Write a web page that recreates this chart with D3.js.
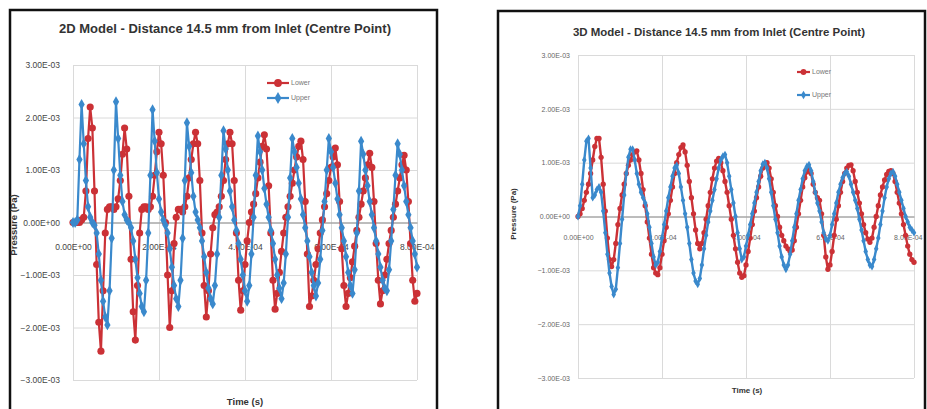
<!DOCTYPE html>
<html>
<head>
<meta charset="utf-8">
<script src="https://cdn.jsdelivr.net/npm/d3@7"></script>
<style>
  html, body { margin: 0; padding: 0; background: #fff; }
  svg { display: block; font-family: 'Liberation Sans', Arial, sans-serif; }
</style>
</head>
<body>
<svg id="chart" width="927" height="409"></svg>
<script>
// Pressure in units of 1E-03 Pa, sampled every 5E-06 s
const timeStep = 5e-6;
const unit = 1e-3;
const seriesNames = ['Lower', 'Upper'];

const lowerTwoD = [
  0, 0, 0, 0, 0.05, 0.1, 0.6, 1.6, 2.2, 1.8,
  0.6, -0.8, -1.9, -2.45, -1.3, -0.2, 0.25, 0.3, 0.3, 0.25,
  0.3, 0.45, 0.8, 1.3, 1.8, 1.4, 0.5, -0.7, -1.7, -2.24,
  -1.2, -0.2, 0.25, 0.3, 0.3, 0.25, 0.3, 0.5, 0.9, 1.35,
  1.72, 1.5, 0.9, 0.0, -1.0, -2.0, -1.3, -0.4, 0.1, 0.25,
  0.25, 0.2, 0.3, 0.5, 0.85, 1.2, 1.5, 1.72, 1.5, 0.8,
  -0.2, -1.2, -1.8, -1.3, -0.6, -0.1, 0.15, 0.2, 0.3, 0.5,
  0.8, 1.2, 1.5, 1.72, 1.5, 0.8, -0.2, -1.1, -1.67, -1.3,
  -0.8, -0.35, 0.0, 0.2, 0.35, 0.55, 0.85, 1.15, 1.45, 1.67,
  1.4, 0.7, -0.2, -1.1, -1.65, -1.35, -0.95, -0.55, -0.2, 0.1,
  0.3, 0.5, 0.75, 1.0, 1.25, 1.45, 1.55, 1.2, 0.4, -0.6,
  -1.6, -1.4, -1.1, -0.8, -0.5, -0.2, 0.05, 0.3, 0.55, 0.8,
  1.05, 1.25, 1.42, 1.1, 0.4, -0.5, -1.2, -1.6, -1.35, -1.05,
  -0.75, -0.45, -0.15, 0.1, 0.35, 0.6, 0.85, 1.1, 1.32, 1.05,
  0.4, -0.4, -1.1, -1.55, -1.3, -1.0, -0.7, -0.4, -0.15, 0.1,
  0.35, 0.6, 0.85, 1.1, 1.28, 1.0, 0.4, -0.4, -1.1, -1.5,
  -1.35
];
const upperTwoD = [
  0, 0, 0.05, 1.2, 2.25, 1.5, 0.8, 0.3, 0.1, 0.0,
  -0.05, -0.2, -0.6, -1.1, -1.5, -1.8, -1.95, -1.3, -0.3, 1.0,
  2.3, 1.6, 0.9, 0.4, 0.15, 0.05, 0.0, -0.1, -0.35, -0.7,
  -1.05, -1.35, -1.6, -1.7, -1.1, -0.2, 0.9, 2.15, 1.55, 0.95,
  0.45, 0.2, 0.05, -0.05, -0.2, -0.5, -0.85, -1.2, -1.45, -1.6,
  -1.1, -0.3, 0.8, 1.9, 1.45, 0.95, 0.5, 0.2, 0.05, -0.1,
  -0.35, -0.65, -0.95, -1.25, -1.45, -1.55, -1.2, -0.6, 0.1, 0.9,
  1.75, 1.4, 1.0, 0.6, 0.3, 0.05, -0.15, -0.4, -0.7, -1.0,
  -1.3, -1.5, -1.2, -0.6, 0.1, 0.9, 1.65, 1.35, 1.0, 0.65,
  0.35, 0.1, -0.15, -0.4, -0.7, -1.0, -1.25, -1.45, -1.15, -0.6,
  0.1, 0.85, 1.6, 1.35, 1.05, 0.75, 0.45, 0.15, -0.1, -0.35,
  -0.65, -0.95, -1.2, -1.4, -1.15, -0.7, -0.15, 0.4, 1.0, 1.6,
  1.35, 1.05, 0.75, 0.45, 0.15, -0.1, -0.35, -0.65, -0.95, -1.2,
  -1.35, -0.9, -0.2, 0.6, 1.55, 1.3, 1.0, 0.7, 0.4, 0.15,
  -0.1, -0.35, -0.6, -0.85, -1.1, -1.25, -1.3, -0.9, -0.35, 0.25,
  0.9, 1.5, 1.3, 1.0, 0.7, 0.4, 0.15, -0.1, -0.35, -0.6,
  -0.85
];
const lowerThreeD = [
  0, 0.05, 0.15, 0.3, 0.45, 0.6, 0.8, 1.05, 1.3, 1.45,
  1.45, 1.1, 0.6, 0.1, -0.4, -0.8, -0.93, -0.8, -0.5, -0.15,
  0.15, 0.4, 0.6, 0.8, 0.95, 1.05, 1.15, 1.2, 1.22, 1.05,
  0.8, 0.5, 0.2, -0.1, -0.4, -0.7, -0.95, -1.05, -1.08, -0.95,
  -0.7, -0.45, -0.2, 0.05, 0.3, 0.55, 0.8, 1.0, 1.15, 1.28,
  1.33, 1.2, 0.95, 0.65, 0.35, 0.05, -0.25, -0.5, -0.6, -0.5,
  -0.3, -0.05, 0.2, 0.45, 0.7, 0.9, 1.03, 1.08, 1.0, 0.85,
  0.65, 0.45, 0.2, -0.05, -0.35, -0.6, -0.85, -1.05, -1.13, -1.1,
  -0.9, -0.65, -0.4, -0.15, 0.1, 0.35, 0.55, 0.75, 0.9, 0.98,
  1.0, 0.9, 0.7, 0.45, 0.2, 0.0, -0.2, -0.35, -0.45, -0.55,
  -0.6, -0.65, -0.62, -0.45, -0.2, 0.05, 0.3, 0.55, 0.72, 0.83,
  0.88, 0.8, 0.6, 0.45, 0.35, 0.3, 0.05, -0.35, -0.75, -0.98,
  -0.9, -0.65, -0.35, -0.05, 0.2, 0.45, 0.65, 0.8, 0.9, 0.95,
  0.96, 0.85, 0.65, 0.45, 0.25, 0.05, -0.15, -0.3, -0.42, -0.48,
  -0.4, -0.2, 0.0, 0.2, 0.4, 0.55, 0.68, 0.78, 0.84, 0.85,
  0.8, 0.65, 0.45, 0.25, 0.05, -0.15, -0.35, -0.55, -0.7, -0.8,
  -0.85
];
const upperThreeD = [
  0, 0.2, 0.6, 1.05, 1.4, 1.45, 0.9, 0.35, 0.4, 0.5,
  0.55, 0.45, 0.1, -0.3, -0.7, -1.05, -1.3, -1.45, -1.35, -0.95,
  -0.5, -0.05, 0.4, 0.8, 1.1, 1.25, 1.25, 1.05, 0.8, 0.6,
  0.45, 0.35, 0.25, 0.05, -0.2, -0.5, -0.75, -0.9, -0.85, -0.65,
  -0.4, -0.15, 0.1, 0.35, 0.55, 0.75, 0.9, 0.95, 0.8, 0.55,
  0.3, 0.05, -0.2, -0.5, -0.8, -1.05, -1.2, -1.26, -1.15, -0.9,
  -0.6, -0.35, -0.1, 0.1, 0.3, 0.5, 0.7, 0.9, 1.05, 1.12,
  1.15, 1.0, 0.75, 0.5, 0.25, 0.0, -0.3, -0.6, -0.8, -0.75,
  -0.55, -0.35, -0.15, 0.05, 0.25, 0.45, 0.65, 0.85, 0.97, 1.0,
  0.9, 0.7, 0.45, 0.2, -0.05, -0.3, -0.55, -0.75, -0.9, -0.98,
  -0.9, -0.7, -0.45, -0.2, 0.05, 0.3, 0.5, 0.7, 0.85, 0.93,
  0.96, 0.85, 0.65, 0.45, 0.25, 0.1, -0.1, -0.3, -0.42, -0.45,
  -0.35, -0.15, 0.05, 0.25, 0.45, 0.6, 0.72, 0.8, 0.83, 0.75,
  0.6, 0.45, 0.3, 0.15, -0.05, -0.25, -0.45, -0.65, -0.8, -0.9,
  -0.93, -0.8, -0.6, -0.4, -0.15, 0.1, 0.35, 0.55, 0.7, 0.8,
  0.83, 0.75, 0.6, 0.45, 0.3, 0.15, 0.0, -0.1, -0.2, -0.25,
  -0.3
];

const xTicks = [0, 2e-4, 4e-4, 6e-4, 8e-4];
const yTicks = [-3e-3, -2e-3, -1e-3, 0, 1e-3, 2e-3, 3e-3];

const colors = { Lower: '#cb3136', Upper: '#3a89cc' };

// Excel style scientific label, e.g. 1.00E-03
function sci(v) {
    const s = d3.format('.2e')(v);
    const [m, e] = s.split('e');
    const sign = e[0] === '-' ? '-' : '+';
    const digits = e.replace(/[+-]/, '').padStart(2, '0');
    return `${m}E${sign}${digits}`;
}

const svg = d3.select('#chart');

svg.append('rect')
    .attr('width', 927)
    .attr('height', 409)
    .attr('fill', 'white');

function drawPanel(p) {
    const g = svg.append('g');

    // panel frame
    g.append('rect')
        .attr('x', p.box[0])
        .attr('y', p.box[1])
        .attr('width', p.box[2])
        .attr('height', p.box[3])
        .attr('fill', 'white')
        .attr('stroke', '#111')
        .attr('stroke-width', 2.5);

    const x = d3.scaleLinear()
        .domain([0, 8e-4])
        .range([p.left, p.right]);

    const y = d3.scaleLinear()
        .domain([-3e-3, 3e-3])
        .range([p.bottom, p.top]);

    // grid lines
    g.append('g')
        .attr('transform', `translate(${p.left},0)`)
        .call(d3.axisLeft(y).tickValues(yTicks).tickSize(-(p.right - p.left)).tickFormat(''))
        .call(a => a.select('.domain').remove())
        .call(a => a.selectAll('line').attr('stroke', '#dadada'));

    g.append('g')
        .attr('transform', `translate(0,${p.bottom})`)
        .call(d3.axisBottom(x).tickValues(xTicks).tickSize(-(p.bottom - p.top)).tickFormat(''))
        .call(a => a.select('.domain').remove())
        .call(a => a.selectAll('line').attr('stroke', '#dadada'));

    // y tick labels
    g.append('g')
        .attr('transform', `translate(${p.left},0)`)
        .call(d3.axisLeft(y).tickValues(yTicks).tickSize(0).tickPadding(p.yPad).tickFormat(sci))
        .call(a => a.select('.domain').remove())
        .call(a => a.selectAll('text')
            .style('font-size', p.tickFont + 'px')
            .attr('fill', p.tickColor));

    // x axis through zero, labels below it
    g.append('g')
        .attr('transform', `translate(0,${y(0)})`)
        .call(d3.axisBottom(x).tickValues(xTicks).tickSize(0).tickPadding(p.xPad).tickFormat(sci))
        .call(a => a.select('.domain').attr('stroke', '#8c8c8c'))
        .call(a => a.selectAll('text')
            .style('font-size', p.tickFont + 'px')
            .attr('fill', p.tickColor))
        // last label sits against the frame
        .call(a => a.selectAll('.tick:last-of-type text')
            .attr('text-anchor', 'end')
            .attr('dx', p.lastDx));

    const line = d3.line()
        .x((d, i) => x(i * timeStep))
        .y(d => y(d * unit));

    const symbols = { Lower: d3.symbolCircle, Upper: d3.symbolDiamond };

    p.series.forEach((values, k) => {
        const name = seriesNames[k];
        g.append('path')
            .datum(values)
            .attr('fill', 'none')
            .attr('stroke', colors[name])
            .attr('stroke-width', p.lineWidth)
            .attr('stroke-linejoin', 'round')
            .attr('d', line);

        g.append('g')
            .selectAll('path')
            .data(values)
            .join('path')
            .attr('transform', (d, i) => `translate(${x(i * timeStep)},${y(d * unit)})`)
            .attr('d', d3.symbol(symbols[name], p.markerSize[k]))
            .attr('fill', colors[name]);
    });

    // title
    g.append('text')
        .attr('x', p.titleX)
        .attr('y', p.titleY)
        .attr('text-anchor', 'middle')
        .attr('textLength', p.titleLen)
        .attr('lengthAdjust', 'spacingAndGlyphs')
        .style('font-size', p.titleFont + 'px')
        .style('font-weight', 'bold')
        .attr('fill', '#333')
        .text(p.title);

    // axis titles
    g.append('text')
        .attr('transform', `translate(${p.yTitleX},${p.yTitleY}) rotate(-90)`)
        .attr('text-anchor', 'middle')
        .style('font-size', p.axisFont + 'px')
        .style('font-weight', 'bold')
        .attr('fill', '#333')
        .text('Pressure (Pa)');

    g.append('text')
        .attr('x', p.xTitleX)
        .attr('y', p.xTitleY)
        .attr('text-anchor', 'middle')
        .style('font-size', p.axisFont + 'px')
        .style('font-weight', 'bold')
        .attr('fill', '#333')
        .text('Time (s)');

    // legend
    seriesNames.forEach((name, k) => {
        const ly = p.legendY + k * p.legendGap;
        g.append('line')
            .attr('x1', p.legendX)
            .attr('x2', p.legendX + p.legendLen)
            .attr('y1', ly)
            .attr('y2', ly)
            .attr('stroke', colors[name])
            .attr('stroke-width', 2.2);
        g.append('path')
            .attr('transform', `translate(${p.legendX + p.legendLen / 2},${ly})`)
            .attr('d', d3.symbol(symbols[name], p.markerSize[k] * 1.2))
            .attr('fill', colors[name]);
        g.append('text')
            .attr('x', p.legendX + p.legendLen + 2)
            .attr('y', ly)
            .attr('dy', '0.35em')
            .style('font-size', p.legendFont + 'px')
            .attr('fill', '#777')
            .text(name);
    });
}

drawPanel({
    box: [10, 10, 427, 410],
    left: 73, right: 417, top: 65, bottom: 380,
    series: [lowerTwoD, upperTwoD],
    title: '2D Model - Distance 14.5 mm from Inlet (Centre Point)',
    titleX: 225, titleY: 33, titleLen: 332, titleFont: 12,
    tickFont: 8.5, tickColor: '#444', yPad: 13, xPad: 21, lastDx: 17,
    yTitleX: 17, yTitleY: 225, xTitleX: 245, xTitleY: 405, axisFont: 9.5,
    legendX: 267, legendY: 83, legendGap: 15, legendLen: 22, legendFont: 7,
    lineWidth: 2.2, markerSize: [40, 34]
});

drawPanel({
    box: [498, 11, 427, 410],
    left: 578, right: 914, top: 55, bottom: 378,
    series: [lowerThreeD, upperThreeD],
    title: '3D Model - Distance 14.5 mm from Inlet (Centre Point)',
    titleX: 719, titleY: 36, titleLen: 292, titleFont: 10.5,
    tickFont: 7, tickColor: '#666', yPad: 8, xPad: 19, lastDx: 8,
    yTitleX: 516, yTitleY: 214, xTitleX: 747, xTitleY: 393, axisFont: 8,
    legendX: 797, legendY: 72, legendGap: 23, legendLen: 13, legendFont: 7,
    lineWidth: 2.4, markerSize: [22, 18]
});
</script>
</body>
</html>
